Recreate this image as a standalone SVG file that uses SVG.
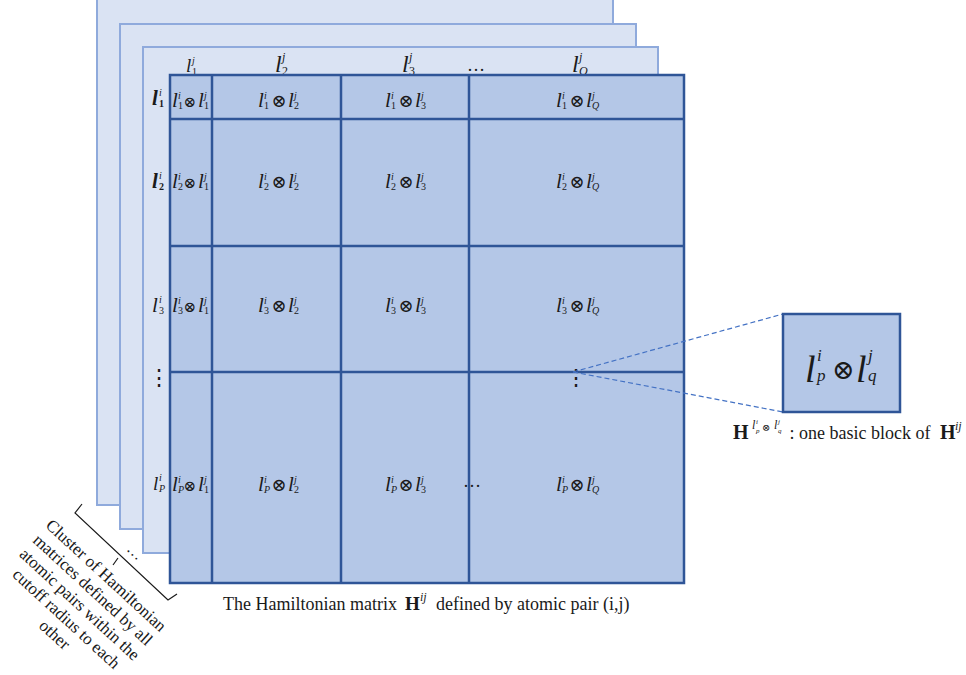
<svg xmlns="http://www.w3.org/2000/svg" width="966" height="675" viewBox="0 0 966 675">
  <style>
    .sheet { fill: #dae3f3; stroke: #8faadc; stroke-width: 2; }
    .mat { fill: #b4c7e7; stroke: #2f5597; stroke-width: 2.5; }
    .grid { stroke: #2f5597; stroke-width: 2.5; fill: none; }
    .t { font-family: "Liberation Serif", "Times New Roman", serif; fill: #1a1a1a; }
    .c { font-size: 21px; }
    .hl { font-size: 24px; }
    .h { font-size: 18px; }
    .s { font-size: 10px; }
    .hs { font-size: 12px; }
    .rs { font-size: 10px; }
    .i { font-style: italic; }
    .b { font-weight: bold; }
    .o { font-family: "DejaVu Serif", serif; font-size: 18px; font-style: normal; }
    .o1 { font-family: "DejaVu Serif", serif; font-size: 15px; font-style: normal; }
    .vd { font-family: "DejaVu Serif", serif; font-size: 22px; }
    .dash { stroke: #4472c4; stroke-width: 1.2; stroke-dasharray: 5 3; fill: none; }
    .brace { stroke: #1a1a1a; stroke-width: 1.2; fill: none; }
  </style>

  <!-- stacked Hamiltonian sheets behind the main matrix -->
  <g id="sheet-back"><rect class="sheet" x="97" y="-1" width="516" height="506"/></g>
  <g id="sheet-middle"><rect class="sheet" x="120" y="24" width="516" height="505"/></g>
  <g id="sheet-front"><rect class="sheet" x="143" y="47" width="515" height="506"/></g>

  <!-- column headers -->
  <g id="col-headers" class="t">
    <text style="font-size:19px"><tspan x="186" y="72" class="i">l</tspan><tspan x="192" y="63.5" class="s i">j</tspan><tspan x="192" y="75" class="s">1</tspan></text>
    <text class="hl"><tspan x="275" y="72" class="i">l</tspan><tspan x="282" y="61" class="hs i">j</tspan><tspan x="282" y="75" class="hs">2</tspan></text>
    <text class="hl"><tspan x="402" y="72" class="i">l</tspan><tspan x="409" y="61" class="hs i">j</tspan><tspan x="409" y="75" class="hs">3</tspan></text>
    <text class="h" x="467" y="71">…</text>
    <text class="hl"><tspan x="572" y="72" class="i">l</tspan><tspan x="579" y="61" class="hs i">j</tspan><tspan x="579" y="75" class="hs i">Q</tspan></text>
  </g>

  <!-- row headers -->
  <g id="row-headers" class="t">
    <text class="c"><tspan x="152" y="105" class="i b">l</tspan><tspan x="159" y="95.5" class="rs i">i</tspan><tspan x="159" y="106.5" class="rs b">1</tspan></text>
    <text class="c"><tspan x="152" y="188" class="i b">l</tspan><tspan x="159" y="178.5" class="rs i">i</tspan><tspan x="159" y="189.5" class="rs b">2</tspan></text>
    <text class="c"><tspan x="152" y="312" class="i">l</tspan><tspan x="159" y="302.5" class="rs i">i</tspan><tspan x="159" y="313.5" class="rs">3</tspan></text>
    <text class="vd" x="148" y="385">⋮</text>
    <text style="font-size:19px"><tspan x="153" y="490" class="i">l</tspan><tspan x="159" y="481" class="s i">i</tspan><tspan x="159" y="492" class="s i">P</tspan></text>
  </g>

  <!-- the Hamiltonian matrix H^ij -->
  <g id="matrix">
    <rect class="mat" x="170" y="75" width="514" height="508"/>
    <path class="grid" d="M212,75V583M341,75V583M469,75V583M170,119H684M170,246H684M170,372H684"/>
  </g>

  <!-- block labels l_a^i (x) l_b^j -->
  <g id="blocks" class="t c">
    <!-- row 1 -->
    <text><tspan x="172" y="107" class="i">l</tspan><tspan x="178" y="98.5" class="s i">i</tspan><tspan x="178" y="108.5" class="s">1</tspan><tspan x="183.5" y="107" class="o1">⊗</tspan><tspan x="198" y="107" class="i">l</tspan><tspan x="204" y="98.5" class="s i">j</tspan><tspan x="204" y="108.5" class="s">1</tspan></text>
    <text><tspan x="258" y="107" class="i">l</tspan><tspan x="264" y="98.5" class="s i">i</tspan><tspan x="264" y="108.5" class="s">1</tspan><tspan x="271.5" y="107" class="o">⊗</tspan><tspan x="288" y="107" class="i">l</tspan><tspan x="294" y="98.5" class="s i">j</tspan><tspan x="294" y="108.5" class="s">2</tspan></text>
    <text><tspan x="385" y="107" class="i">l</tspan><tspan x="391" y="98.5" class="s i">i</tspan><tspan x="391" y="108.5" class="s">1</tspan><tspan x="398.5" y="107" class="o">⊗</tspan><tspan x="415" y="107" class="i">l</tspan><tspan x="421" y="98.5" class="s i">j</tspan><tspan x="421" y="108.5" class="s">3</tspan></text>
    <text><tspan x="556" y="107" class="i">l</tspan><tspan x="562" y="98.5" class="s i">i</tspan><tspan x="562" y="108.5" class="s">1</tspan><tspan x="569.5" y="107" class="o">⊗</tspan><tspan x="586" y="107" class="i">l</tspan><tspan x="592" y="98.5" class="s i">j</tspan><tspan x="592" y="108.5" class="s i">Q</tspan></text>
    <!-- row 2 -->
    <text><tspan x="172" y="188" class="i">l</tspan><tspan x="178" y="179.5" class="s i">i</tspan><tspan x="178" y="189.5" class="s">2</tspan><tspan x="183.5" y="188" class="o1">⊗</tspan><tspan x="198" y="188" class="i">l</tspan><tspan x="204" y="179.5" class="s i">j</tspan><tspan x="204" y="189.5" class="s">1</tspan></text>
    <text><tspan x="258" y="188" class="i">l</tspan><tspan x="264" y="179.5" class="s i">i</tspan><tspan x="264" y="189.5" class="s">2</tspan><tspan x="271.5" y="188" class="o">⊗</tspan><tspan x="288" y="188" class="i">l</tspan><tspan x="294" y="179.5" class="s i">j</tspan><tspan x="294" y="189.5" class="s">2</tspan></text>
    <text><tspan x="385" y="188" class="i">l</tspan><tspan x="391" y="179.5" class="s i">i</tspan><tspan x="391" y="189.5" class="s">2</tspan><tspan x="398.5" y="188" class="o">⊗</tspan><tspan x="415" y="188" class="i">l</tspan><tspan x="421" y="179.5" class="s i">j</tspan><tspan x="421" y="189.5" class="s">3</tspan></text>
    <text><tspan x="556" y="188" class="i">l</tspan><tspan x="562" y="179.5" class="s i">i</tspan><tspan x="562" y="189.5" class="s">2</tspan><tspan x="569.5" y="188" class="o">⊗</tspan><tspan x="586" y="188" class="i">l</tspan><tspan x="592" y="179.5" class="s i">j</tspan><tspan x="592" y="189.5" class="s i">Q</tspan></text>
    <!-- row 3 -->
    <text><tspan x="172" y="312" class="i">l</tspan><tspan x="178" y="303.5" class="s i">i</tspan><tspan x="178" y="313.5" class="s">3</tspan><tspan x="183.5" y="312" class="o1">⊗</tspan><tspan x="198" y="312" class="i">l</tspan><tspan x="204" y="303.5" class="s i">j</tspan><tspan x="204" y="313.5" class="s">1</tspan></text>
    <text><tspan x="258" y="312" class="i">l</tspan><tspan x="264" y="303.5" class="s i">i</tspan><tspan x="264" y="313.5" class="s">3</tspan><tspan x="271.5" y="312" class="o">⊗</tspan><tspan x="288" y="312" class="i">l</tspan><tspan x="294" y="303.5" class="s i">j</tspan><tspan x="294" y="313.5" class="s">2</tspan></text>
    <text><tspan x="385" y="312" class="i">l</tspan><tspan x="391" y="303.5" class="s i">i</tspan><tspan x="391" y="313.5" class="s">3</tspan><tspan x="398.5" y="312" class="o">⊗</tspan><tspan x="415" y="312" class="i">l</tspan><tspan x="421" y="303.5" class="s i">j</tspan><tspan x="421" y="313.5" class="s">3</tspan></text>
    <text><tspan x="556" y="312" class="i">l</tspan><tspan x="562" y="303.5" class="s i">i</tspan><tspan x="562" y="313.5" class="s">3</tspan><tspan x="569.5" y="312" class="o">⊗</tspan><tspan x="586" y="312" class="i">l</tspan><tspan x="592" y="303.5" class="s i">j</tspan><tspan x="592" y="313.5" class="s i">Q</tspan></text>
    <!-- row P -->
    <text><tspan x="172" y="491" class="i">l</tspan><tspan x="178" y="482.5" class="s i">i</tspan><tspan x="178" y="492.5" class="s i">P</tspan><tspan x="183.5" y="491" class="o1">⊗</tspan><tspan x="198" y="491" class="i">l</tspan><tspan x="204" y="482.5" class="s i">j</tspan><tspan x="204" y="492.5" class="s">1</tspan></text>
    <text><tspan x="258" y="491" class="i">l</tspan><tspan x="264" y="482.5" class="s i">i</tspan><tspan x="264" y="492.5" class="s i">P</tspan><tspan x="271.5" y="491" class="o">⊗</tspan><tspan x="288" y="491" class="i">l</tspan><tspan x="294" y="482.5" class="s i">j</tspan><tspan x="294" y="492.5" class="s">2</tspan></text>
    <text><tspan x="385" y="491" class="i">l</tspan><tspan x="391" y="482.5" class="s i">i</tspan><tspan x="391" y="492.5" class="s i">P</tspan><tspan x="398.5" y="491" class="o">⊗</tspan><tspan x="415" y="491" class="i">l</tspan><tspan x="421" y="482.5" class="s i">j</tspan><tspan x="421" y="492.5" class="s">3</tspan></text>
    <text><tspan x="556" y="491" class="i">l</tspan><tspan x="562" y="482.5" class="s i">i</tspan><tspan x="562" y="492.5" class="s i">P</tspan><tspan x="569.5" y="491" class="o">⊗</tspan><tspan x="586" y="491" class="i">l</tspan><tspan x="592" y="482.5" class="s i">j</tspan><tspan x="592" y="492.5" class="s i">Q</tspan></text>
    <!-- ellipses inside the matrix -->
    <text class="h" x="463" y="487">…</text>
    <text class="vd" x="565" y="385">⋮</text>
  </g>

  <!-- connectors: zoom lines from the matrix to one basic block -->
  <g id="connectors">
    <line class="dash" x1="573" y1="372" x2="783" y2="314"/>
    <line class="dash" x1="573" y1="372" x2="783" y2="412"/>
  </g>

  <!-- one basic block, enlarged -->
  <g id="basic-block">
    <rect class="mat" x="783" y="314" width="117" height="98"/>
    <text class="t" style="font-size:38px"><tspan x="805" y="382" class="i">l</tspan><tspan x="817" y="361" class="i" style="font-size:17px">i</tspan><tspan x="817" y="381" class="i" style="font-size:17px">p</tspan><tspan x="832" y="379" class="o" style="font-size:27px">⊗</tspan><tspan x="856" y="382" class="i">l</tspan><tspan x="868" y="361" class="i" style="font-size:17px">j</tspan><tspan x="868" y="381" class="i" style="font-size:17px">q</tspan></text>
  </g>

  <!-- captions -->
  <g id="block-caption" class="t h">
    <text><tspan x="733" y="439" class="b" style="font-size:20px">H</tspan><tspan x="752" y="429" class="i" style="font-size:12px">l</tspan><tspan x="756" y="424" class="i" style="font-size:7px">i</tspan><tspan x="756" y="432.5" class="i" style="font-size:7px">p</tspan><tspan x="762" y="431" class="o" style="font-size:10px">⊗</tspan><tspan x="774" y="429" class="i" style="font-size:12px">l</tspan><tspan x="778" y="424" class="i" style="font-size:7px">j</tspan><tspan x="778" y="432.5" class="i" style="font-size:7px">q</tspan><tspan x="785" y="439"> : one basic block of </tspan><tspan x="940" y="439" class="b" style="font-size:20px">H</tspan><tspan x="955" y="430" class="i" style="font-size:12px">ij</tspan></text>
  </g>
  <g id="matrix-caption" class="t h">
    <text><tspan x="223" y="610">The Hamiltonian matrix </tspan><tspan x="405" y="610" class="b" style="font-size:19px">H</tspan><tspan x="420" y="601" class="i" style="font-size:12px">ij</tspan><tspan x="436" y="610">defined by atomic pair (i,j)</tspan></text>
  </g>

  <!-- brace and label for the cluster of sheets -->
  <g id="cluster-label">
    <path class="brace" d="M82,504L75,513L168,600L177,594M118,558L113,565"/>
    <g transform="translate(126,550) rotate(43)">
      <text class="t" style="font-size:16px" x="0" y="0">…</text>
    </g>
    <text class="t" style="font-size:17px" text-anchor="middle" transform="translate(104,581) rotate(42.6)">
      <tspan x="0" y="0">Cluster of Hamiltonian</tspan>
      <tspan x="0" y="19.6">matrices defined  by all</tspan>
      <tspan x="0" y="39.2">atomic pairs within the</tspan>
      <tspan x="0" y="58.8">cutoff radius to each</tspan>
      <tspan x="0" y="78.4">other</tspan>
    </text>
  </g>
</svg>
